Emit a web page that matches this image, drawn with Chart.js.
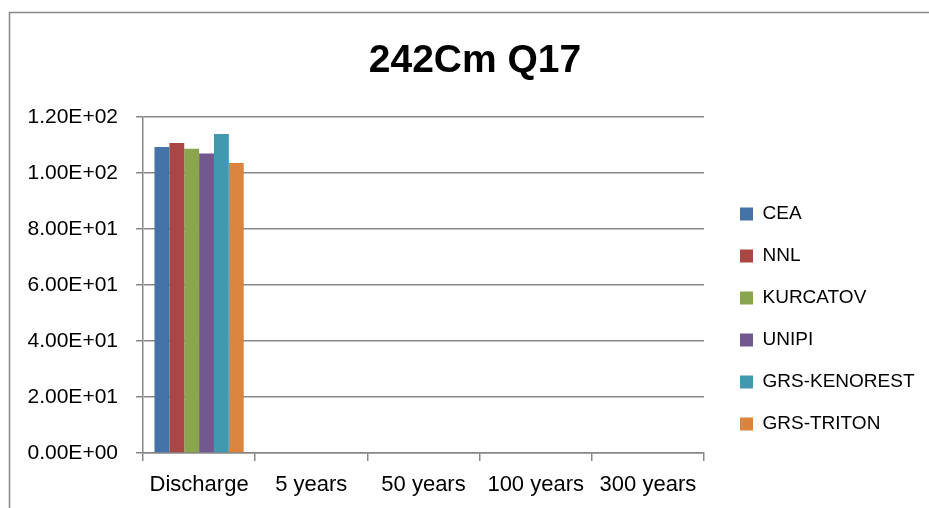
<!DOCTYPE html>
<html>
<head>
<meta charset="utf-8">
<script src="https://cdn.jsdelivr.net/npm/chart.js@4/dist/chart.umd.min.js"></script>
<style>
html,body{margin:0;padding:0;background:#fff;}
#wrap{position:relative;width:929px;height:508px;}
</style>
</head>
<body>
<div id="wrap"><canvas id="c" width="929" height="508"></canvas></div>
<script>
// ---- data ----
const titleText = '242Cm Q17';
const categories = ['Discharge', '5 years', '50 years', '100 years', '300 years'];
const seriesNames = ['CEA', 'NNL', 'KURCATOV', 'UNIPI', 'GRS-KENOREST', 'GRS-TRITON'];
const CEA = [109.3, null, null, null, null];
const NNL = [110.7, null, null, null, null];
const KURCATOV = [108.7, null, null, null, null];
const UNIPI = [107.0, null, null, null, null];
const GRS_KENOREST = [113.9, null, null, null, null];
const GRS_TRITON = [103.6, null, null, null, null];
const yTickValues = [0, 20, 40, 60, 80, 100, 120];
const yTickLabels = ['0.00E+00', '2.00E+01', '4.00E+01', '6.00E+01', '8.00E+01', '1.00E+02', '1.20E+02'];

// ---- styles ----
const seriesValues = [CEA, NNL, KURCATOV, UNIPI, GRS_KENOREST, GRS_TRITON];
const seriesColors = ['#4572A7', '#AA4643', '#89A54E', '#71588F', '#4198AF', '#DB843D'];
const GRAY = '#878787';
const FONT = "'Liberation Sans', Arial, sans-serif";

const datasets = seriesNames.map((name, i) => ({
  label: name,
  data: seriesValues[i],
  backgroundColor: seriesColors[i],
  borderWidth: 0,
  categoryPercentage: 0.795,
  barPercentage: 1.0
}));

const frame = {
  id: 'frame',
  beforeDraw(chart) {
    const ctx = chart.ctx;
    ctx.save();
    ctx.fillStyle = '#fff';
    ctx.fillRect(0, 0, chart.width, chart.height);
    ctx.strokeStyle = GRAY;
    ctx.lineWidth = 1.5;
    ctx.strokeRect(9.5, 12.5, 1200, 1200);
    ctx.restore();
  }
};

const placeBlocks = {
  id: 'placeBlocks',
  beforeLayout(chart) {
    const lg = chart.legend;
    if (lg && !lg._fixedFit) {
      const orig = lg.fit.bind(lg);
      lg.fit = function () { orig(); this.width = 225; };
      lg._fixedFit = true;
    }
  },
  afterLayout(chart) {
    const lg = chart.legend;
    if (lg) {
      lg.left = 717; lg.right = 929;
      lg.top = 100; lg.bottom = 537.8;
    }
    const tb = chart.titleBlock;
    if (tb) { tb.left = 275; tb.right = 675; }
  }
};

new Chart(document.getElementById('c'), {
  type: 'bar',
  data: { labels: categories, datasets: datasets },
  plugins: [frame, placeBlocks],
  options: {
    responsive: false,
    animation: false,
    devicePixelRatio: 1,
    layout: { padding: { left: 0, right: 0, top: 0, bottom: 0 } },
    plugins: {
      title: {
        display: true,
        text: titleText,
        color: '#000',
        font: { family: FONT, size: 39, weight: 'bold', lineHeight: 1.2 },
        padding: { top: 37.6, bottom: 32.6 }
      },
      legend: {
        display: true,
        position: 'right',
        align: 'center',
        labels: {
          boxWidth: 13,
          boxHeight: 13,
          padding: 23,
          color: '#000',
          font: { family: FONT, size: 19 }
        }
      },
      tooltip: { enabled: false }
    },
    scales: {
      x: {
        afterFit(s) { s.height = 55; },
        grid: { display: true, drawOnChartArea: false, drawTicks: true, tickLength: 8, color: GRAY, lineWidth: 1.5, offset: true },
        border: { display: true, color: GRAY, width: 1.5 },
        ticks: { color: '#000', font: { family: FONT, size: 22 }, padding: 11, maxRotation: 0, autoSkip: false }
      },
      y: {
        min: 0, max: 120,
        afterFit(s) { s.width = 143; },
        afterBuildTicks(s) { s.ticks = yTickValues.map(v => ({ value: v })); },
        grid: { display: true, drawOnChartArea: true, drawTicks: true, tickLength: 7, color: GRAY, lineWidth: 1.5 },
        border: { display: true, color: GRAY, width: 1.5 },
        ticks: {
          color: '#000',
          font: { family: FONT, size: 21 },
          padding: 18,
          callback(value, index) { return yTickLabels[index]; }
        }
      }
    }
  }
});
</script>
</body>
</html>
